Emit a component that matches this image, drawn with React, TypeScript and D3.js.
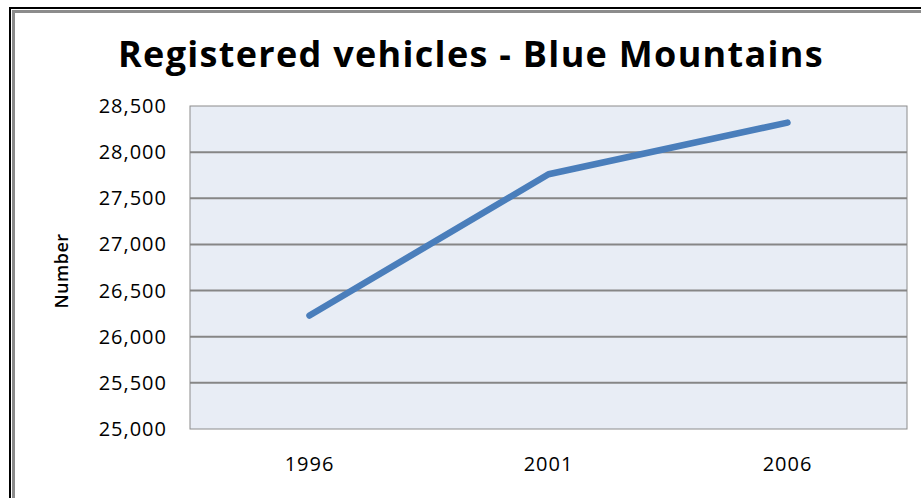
import * as d3 from "d3";

const years = ["1996", "2001", "2006"];
const vehicles = [26230, 27760, 28320];
const yTicks = [25000, 25500, 26000, 26500, 27000, 27500, 28000, 28500];

const W = 921;
const H = 498;
const plot = { left: 190, right: 907, top: 106, bottom: 429 };
const FONT = "'Open Sans', 'Liberation Sans', sans-serif";

export default function App() {
  const x = d3.scaleBand<string>().domain(years).range([plot.left, plot.right]);
  const y = d3.scaleLinear().domain([25000, 28500]).range([plot.bottom, plot.top]);
  const fmt = d3.format(",");

  const line = d3.line<number>()
    .x((_, i) => (x(years[i]) ?? 0) + x.bandwidth() / 2)
    .y((d) => y(d));

  return (
    <svg width={W} height={H} style={{ position: "fixed", left: 0, top: 0, background: "#fff" }}>
      {/* frame */}
      <path d={`M10,${H} V8 H${W}`} fill="none" stroke="#000" strokeWidth={2} />
      <path d={`M13.5,${H} V11.5 H${W}`} fill="none" stroke="#8c8c8c" strokeWidth={3} />

      <text x={471} y={67} textAnchor="middle" fontFamily={FONT} fontWeight={700} fontSize={36}
        letterSpacing={1.3} fill="#000">
        Registered vehicles - Blue Mountains
      </text>

      <rect x={plot.left} y={plot.top} width={plot.right - plot.left} height={plot.bottom - plot.top}
        fill="#e8edf5" stroke="#8c8c8c" strokeWidth={1} />

      {yTicks.map((t) => (
        <g key={t}>
          {t > 25000 && t < 28500 && (
            <line x1={plot.left} x2={plot.right} y1={y(t)} y2={y(t)} stroke="#868686" strokeWidth={2} />
          )}
          <text x={167} y={y(t)} dy="0.35em" textAnchor="end" fontFamily={FONT} fontSize={20}
            letterSpacing={1} fill="#000">
            {fmt(t)}
          </text>
        </g>
      ))}

      {years.map((yr) => (
        <text key={yr} x={(x(yr) ?? 0) + x.bandwidth() / 2} y={471} textAnchor="middle"
          fontFamily={FONT} fontSize={20} letterSpacing={1} fill="#000">
          {yr}
        </text>
      ))}

      <text transform={`translate(68,271) rotate(-90)`} textAnchor="middle" fontFamily={FONT}
        fontSize={18} fontWeight={600} letterSpacing={0.5} fill="#000">
        Number
      </text>

      <path d={line(vehicles) ?? ""} fill="none" stroke="#4a7ebb" strokeWidth={6.5}
        strokeLinecap="round" strokeLinejoin="round" />
    </svg>
  );
}
